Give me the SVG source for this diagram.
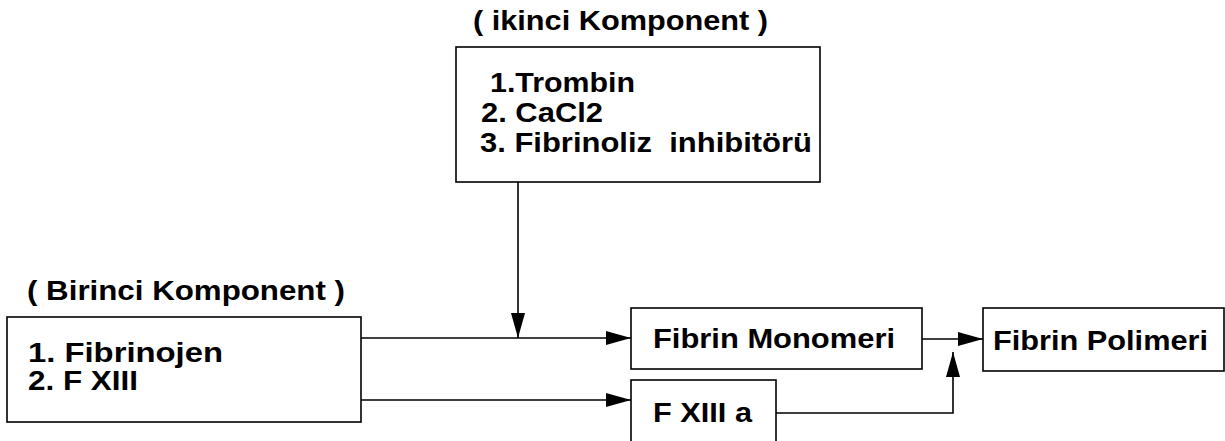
<svg xmlns="http://www.w3.org/2000/svg" width="1225" height="441" viewBox="0 0 1225 441">
<style>
.box{fill:#fff;stroke:#000;stroke-width:1.6}
.t{font-family:"Liberation Sans",Arial,sans-serif;font-weight:bold;font-size:28px;fill:#000;white-space:pre}
.c{fill:none;stroke:#000;stroke-width:1.6}
</style>
<defs>
<marker id="ah" markerUnits="userSpaceOnUse" markerWidth="26" markerHeight="16" refX="25" refY="7" orient="auto">
<path d="M0,0 L25,7 L0,14 Z" fill="#000"/>
</marker>
</defs>
<rect width="1225" height="441" fill="#fff"/>
<g id="title-ikinci">
<text class="t" x="473" y="30" textLength="295" lengthAdjust="spacingAndGlyphs">( ikinci Komponent )</text>
</g>
<g id="ikinci">
<rect class="box" x="456" y="47" width="364" height="135"/>
<text class="t" x="490" y="92" textLength="145" lengthAdjust="spacingAndGlyphs">1.Trombin</text>
<text class="t" x="481" y="122" textLength="122" lengthAdjust="spacingAndGlyphs">2. CaCl2</text>
<text class="t" x="480" y="152" textLength="332" lengthAdjust="spacingAndGlyphs" xml:space="preserve">3. Fibrinoliz  inhibitörü</text>
</g>
<g id="title-birinci">
<text class="t" x="27" y="300" textLength="318" lengthAdjust="spacingAndGlyphs">( Birinci Komponent )</text>
</g>
<g id="birinci">
<rect class="box" x="7" y="317" width="354" height="105"/>
<text class="t" x="28" y="362" textLength="195" lengthAdjust="spacingAndGlyphs">1. Fibrinojen</text>
<text class="t" x="28" y="390" textLength="110" lengthAdjust="spacingAndGlyphs">2. F XIII</text>
</g>
<g id="monomeri">
<rect class="box" x="631" y="308" width="291" height="61"/>
<text class="t" x="653" y="348" textLength="242" lengthAdjust="spacingAndGlyphs">Fibrin Monomeri</text>
</g>
<g id="fxiiia">
<rect class="box" x="631" y="380" width="145" height="70"/>
<text class="t" x="653" y="422" textLength="99" lengthAdjust="spacingAndGlyphs">F XIII a</text>
</g>
<g id="polimeri">
<rect class="box" x="983" y="308" width="241" height="63"/>
<text class="t" x="993" y="350" textLength="215" lengthAdjust="spacingAndGlyphs">Fibrin Polimeri</text>
</g>
<g id="connectors">
<line class="c" x1="518" y1="182" x2="518" y2="338" marker-end="url(#ah)"/>
<line class="c" x1="361" y1="338" x2="631" y2="338" marker-end="url(#ah)"/>
<line class="c" x1="361" y1="400" x2="631" y2="400" marker-end="url(#ah)"/>
<line class="c" x1="922" y1="339" x2="983" y2="339" marker-end="url(#ah)"/>
<polyline class="c" points="776,413 953,413 953,352" marker-end="url(#ah)"/>
</g>
</svg>
